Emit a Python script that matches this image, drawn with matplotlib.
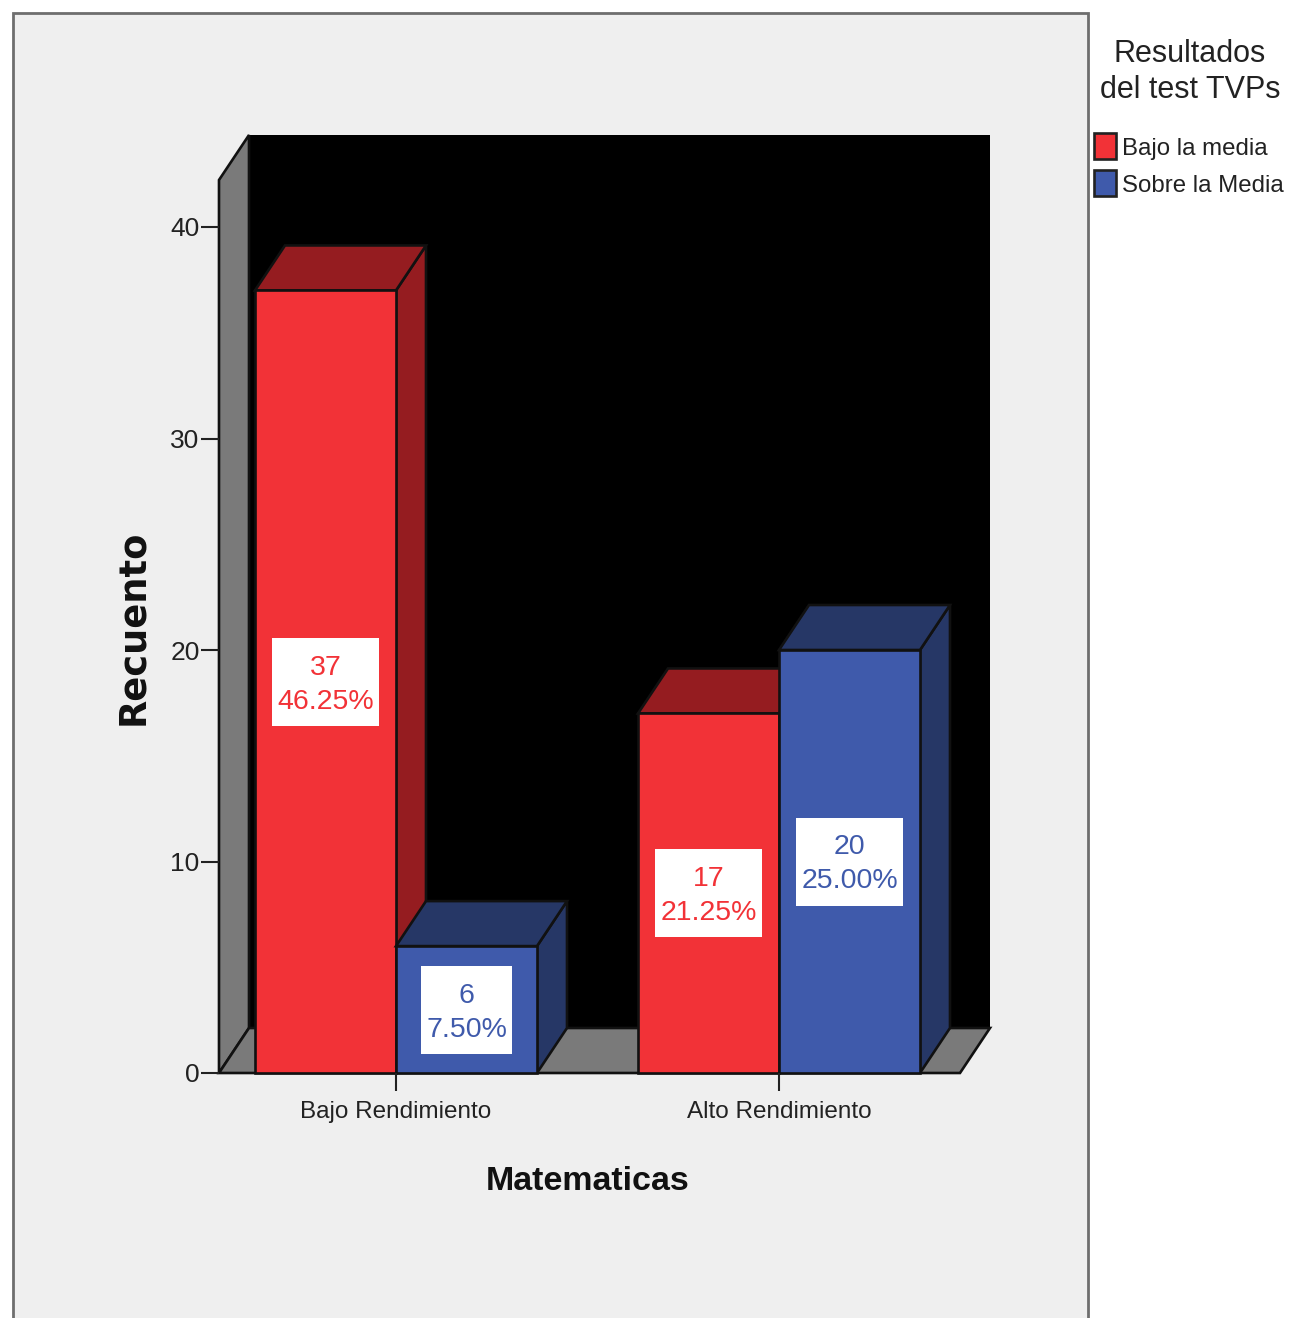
from matplotlib import pyplot as plt
from matplotlib.patches import Polygon, Rectangle

# datos
categorias = ["Bajo Rendimiento", "Alto Rendimiento"]
bajo_media = [37, 17]
sobre_media = [6, 20]
bajo_pct = ["46.25%", "21.25%"]
sobre_pct = ["7.50%", "25.00%"]
yticks = [0, 10, 20, 30, 40]

W, H = 1292, 1318
plt.rcParams['font.family'] = ['Liberation Sans', 'DejaVu Sans']
fig = plt.figure(figsize=(W / 100, H / 100), dpi=100, facecolor='white')

# fondo gris del grafico
fig.patches.append(Rectangle((13 / W, -0.01), 1075 / W, 1 - 13 / H + 0.01, transform=fig.transFigure,
                             facecolor='#efefef', edgecolor='#6e6e6e', linewidth=2, zorder=-1))

# el eje va de x=219 a 990 px, y=1073 a 135 px
ax = fig.add_axes([219 / W, 1 - 1073 / H, (990 - 219) / W, (1073 - 135) / H])
px_x = 383.0   # pixeles por categoria
px_y = 21.15   # pixeles por unidad
ax.set_xlim((219 - 396) / px_x, (990 - 396) / px_x)
ax.set_ylim(0, (1073 - 135) / px_y)
ax.patch.set_alpha(0)
for s in ax.spines.values():
    s.set_visible(False)

dx = 30 / px_x
dy = 45 / px_y
x0, x1 = ax.get_xlim()
y1 = ax.get_ylim()[1]
ancho = 141 / px_x
ln = dict(edgecolor='#111111', linewidth=1.9, clip_on=False)

# paredes
ax.add_patch(Polygon([(x0 + dx, dy), (x1, dy), (x1, y1), (x0 + dx, y1)], facecolor='black', edgecolor='black'))
ax.add_patch(Polygon([(x0, 0), (x0 + dx, dy), (x0 + dx, y1), (x0, y1 - dy)], facecolor='#7a7a7a', **ln))
ax.add_patch(Polygon([(x0, 0), (x1 - dx, 0), (x1, dy), (x0 + dx, dy)], facecolor='#7a7a7a', **ln))


def barra(x, v, frente, oscuro):
    ax.add_patch(Polygon([(x + ancho, 0), (x + ancho + dx, dy), (x + ancho + dx, v + dy), (x + ancho, v)],
                         facecolor=oscuro, **ln))
    ax.add_patch(Polygon([(x, v), (x + dx, v + dy), (x + ancho + dx, v + dy), (x + ancho, v)],
                         facecolor=oscuro, **ln))
    ax.add_patch(Rectangle((x, 0), ancho, v, facecolor=frente, **ln))


def etiqueta(x, v, pct, color, w):
    yc = v / 2
    ax.add_patch(Rectangle((x + ancho / 2 - w / 2, yc - 44 / px_y), w, 88 / px_y, facecolor='white',
                           edgecolor='none', zorder=5))
    ax.text(x + ancho / 2, yc + 14 / px_y, str(v), color=color, fontsize=20.5, ha='center', va='center', zorder=6)
    ax.text(x + ancho / 2, yc - 20 / px_y, pct, color=color, fontsize=20.5, ha='center', va='center', zorder=6)


rojo, rojo_o = '#f23237', '#951c20'
azul, azul_o = '#3f5aab', '#263766'
for i in range(len(categorias)):
    barra(i - ancho, bajo_media[i], rojo, rojo_o)
for i in range(len(categorias)):
    barra(i, sobre_media[i], azul, azul_o)
for i in range(len(categorias)):
    etiqueta(i - ancho, bajo_media[i], bajo_pct[i], rojo, 107 / px_x)
    etiqueta(i, sobre_media[i], sobre_pct[i], azul, 107 / px_x if sobre_media[i] > 10 else 91 / px_x)

ax.set_yticks(yticks)
ax.set_xticks(range(len(categorias)))
ax.set_xticklabels(categorias)
ax.tick_params(axis='y', length=13, width=1.5, labelsize=19, pad=1, color='#222222', labelcolor='#222222')
ax.tick_params(axis='x', length=13, width=1.5, labelsize=17.5, pad=7, color='#222222', labelcolor='#222222')
fig.text(133 / W, 1 - 627 / H, "Recuento", rotation=90, fontsize=26.5, fontweight='bold', ha='center', va='center',
         family='DejaVu Sans', color='#111111')
fig.text(588 / W, 1 - 1182 / H, "Matematicas", fontsize=24.5, fontweight='bold', ha='center', va='center',
         color='#111111')

# leyenda
fig.text(1190 / W, 1 - 72 / H, "Resultados\ndel test TVPs", fontsize=22, ha='center', va='center', color='#222222',
         linespacing=1.3)
for y, c, t in [(146, rojo, "Bajo la media"), (183, azul, "Sobre la Media")]:
    fig.patches.append(Rectangle((1094 / W, 1 - (y + 13) / H), 22 / W, 26 / H, transform=fig.transFigure,
                                 facecolor=c, edgecolor='#222222', linewidth=1.9))
    fig.text(1122 / W, 1 - (y + 3) / H, t, fontsize=17.3, ha='left', va='center', color='#222222')

plt.savefig("out.png", dpi=100)
